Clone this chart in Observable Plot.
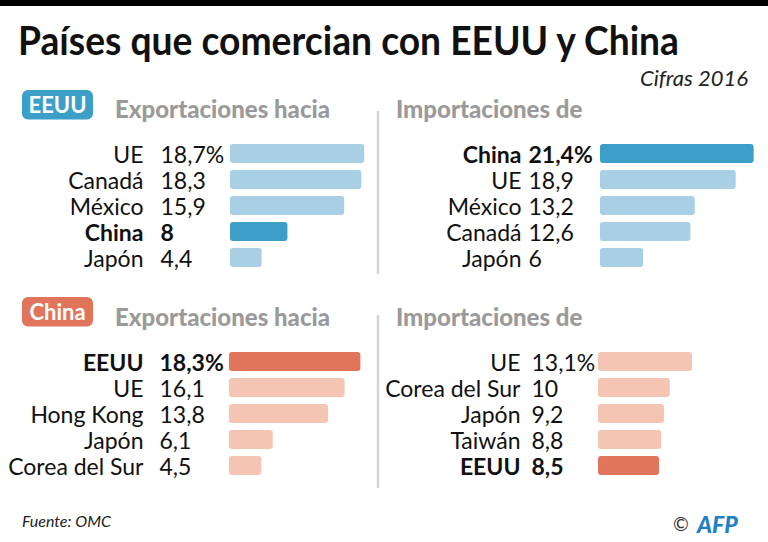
<!DOCTYPE html>
<html>
<head>
<meta charset="utf-8">
<script src="https://cdn.jsdelivr.net/npm/d3@7"></script>
<script src="https://cdn.jsdelivr.net/npm/@observablehq/plot@0.6"></script>
<style>
  body { margin: 0; background: #fff; }
  #chart { position: relative; width: 768px; height: 542px; overflow: hidden; background: #fff; font-family: Lato, sans-serif; }
  #chart > svg { position: absolute; }
</style>
</head>
<body>
<div id="chart"></div>
<script>
// Trade partners, share of total trade in 2016 (%)
const usExportPartners = ["UE", "Canadá", "México", "China", "Japón"];
const usExportShares = [18.7, 18.3, 15.9, 8, 4.4];
const usImportPartners = ["China", "UE", "México", "Canadá", "Japón"];
const usImportShares = [21.4, 18.9, 13.2, 12.6, 6];
const cnExportPartners = ["EEUU", "UE", "Hong Kong", "Japón", "Corea del Sur"];
const cnExportShares = [18.3, 16.1, 13.8, 6.1, 4.5];
const cnImportPartners = ["UE", "Corea del Sur", "Japón", "Taiwán", "EEUU"];
const cnImportShares = [13.1, 10, 9.2, 8.8, 8.5];

const blueDark = "#3c9fc8", blueLight = "#a9cfe4";
const redDark = "#e0755c", redLight = "#f4c5b2";
const pxPerPoint = 7.18;

const chart = document.getElementById("chart");

function fmt(v, i) {
  return String(v).replace(".", ",") + (i === 0 ? "%" : "");
}

// One ranked bar panel: partner name, share, bar
function panel({partners, shares, focus, dark, light, left, top, width, height, barStart, nameEnd, valueStart, barTop, barBottom}) {
  const data = partners.map((p, i) => ({partner: p, share: shares[i], label: fmt(shares[i], i), focus: p === focus}));
  const x0 = barStart - left;
  const base = {y: "partner", textAnchor: "start", dy: 2, fontSize: 23, fill: "#111"};
  const plot = Plot.plot({
    width, height,
    margin: 0,
    style: {fontFamily: "Lato, sans-serif", background: "transparent", overflow: "visible"},
    x: {domain: [0, 22], range: [x0, x0 + 22 * pxPerPoint], axis: null},
    y: {domain: partners, range: [barTop - top, barBottom - top], paddingInner: 0.27, paddingOuter: 0, axis: null},
    marks: [
      Plot.barX(data.filter(d => !d.focus), {x: "share", y: "partner", fill: light, rx: 3}),
      Plot.barX(data.filter(d => d.focus), {x: "share", y: "partner", fill: dark, rx: 3}),
      Plot.text(data.filter(d => !d.focus), {...base, x: 0, text: "partner", textAnchor: "end", dx: nameEnd - barStart}),
      Plot.text(data.filter(d => d.focus), {...base, x: 0, text: "partner", textAnchor: "end", dx: nameEnd - barStart, fontWeight: "bold"}),
      Plot.text(data.filter(d => !d.focus), {...base, x: 0, text: "label", dx: valueStart - barStart}),
      Plot.text(data.filter(d => d.focus), {...base, x: 0, text: "label", dx: valueStart - barStart, fontWeight: "bold"})
    ]
  });
  plot.style.left = left + "px";
  plot.style.top = top + "px";
  chart.appendChild(plot);
}

panel({partners: usExportPartners, shares: usExportShares, focus: "China", dark: blueDark, light: blueLight,
  left: 0, top: 130, width: 378, height: 150, barStart: 230, nameEnd: 143, valueStart: 160, barTop: 141.7, barBottom: 268.3});
panel({partners: usImportPartners, shares: usImportShares, focus: "China", dark: blueDark, light: blueLight,
  left: 384, top: 130, width: 384, height: 150, barStart: 600, nameEnd: 521, valueStart: 528, barTop: 141.7, barBottom: 268.3});
panel({partners: cnExportPartners, shares: cnExportShares, focus: "EEUU", dark: redDark, light: redLight,
  left: 0, top: 340, width: 378, height: 150, barStart: 229, nameEnd: 143, valueStart: 159, barTop: 350.7, barBottom: 476.7});
panel({partners: cnImportPartners, shares: cnImportShares, focus: "EEUU", dark: redDark, light: redLight,
  left: 384, top: 340, width: 384, height: 150, barStart: 598, nameEnd: 520, valueStart: 531, barTop: 350.7, barBottom: 476.7});

// Titles, section headers, dividers and footer
const svg = d3.select(chart).append("svg")
  .attr("width", 768).attr("height", 542)
  .style("left", "0px").style("top", "0px")
  .style("font-family", "Lato, sans-serif");

svg.append("rect").attr("x", 0).attr("y", 0).attr("width", 768).attr("height", 6).attr("fill", "#000");

svg.append("text").attr("x", 18).attr("y", 55)
  .attr("font-size", 40).attr("font-weight", "bold").attr("fill", "#111")
  .attr("textLength", 661).attr("lengthAdjust", "spacingAndGlyphs")
  .text("Países que comercian con EEUU y China");

svg.append("text").attr("x", 748).attr("y", 86).attr("text-anchor", "end")
  .attr("font-size", 22).attr("font-style", "italic").attr("fill", "#222")
  .text("Cifras 2016");

function badge(label, color, y) {
  svg.append("rect").attr("x", 22).attr("y", y).attr("width", 71).attr("height", 29.5).attr("rx", 6).attr("fill", color);
  svg.append("text").attr("x", 57.5).attr("y", y + 23).attr("text-anchor", "middle")
    .attr("font-size", 22).attr("font-weight", "bold").attr("fill", "#fff").text(label);
}
badge("EEUU", blueDark, 90);
badge("China", redDark, 297);

function header(label, x, y) {
  svg.append("text").attr("x", x).attr("y", y)
    .attr("font-size", 24).attr("font-weight", 900).attr("fill", "#9a9a9a").text(label);
}
header("Exportaciones hacia", 115, 118);
header("Importaciones de", 396, 118);
header("Exportaciones hacia", 115, 326);
header("Importaciones de", 396, 326);

svg.append("line").attr("x1", 378).attr("x2", 378).attr("y1", 111).attr("y2", 274).attr("stroke", "#d4d4d4").attr("stroke-width", 2.5);
svg.append("line").attr("x1", 378).attr("x2", 378).attr("y1", 315).attr("y2", 488).attr("stroke", "#d4d4d4").attr("stroke-width", 2.5);

svg.append("text").attr("x", 22).attr("y", 527)
  .attr("font-size", 16).attr("font-style", "italic").attr("fill", "#222").text("Fuente: OMC");

svg.append("text").attr("x", 681).attr("y", 531).attr("text-anchor", "middle")
  .attr("font-size", 19).attr("fill", "#333").text("©");
svg.append("text").attr("x", 697).attr("y", 533)
  .attr("font-size", 23).attr("font-weight", 900).attr("font-style", "italic").attr("fill", "#1f80c8").text("AFP");
</script>
</body>
</html>
